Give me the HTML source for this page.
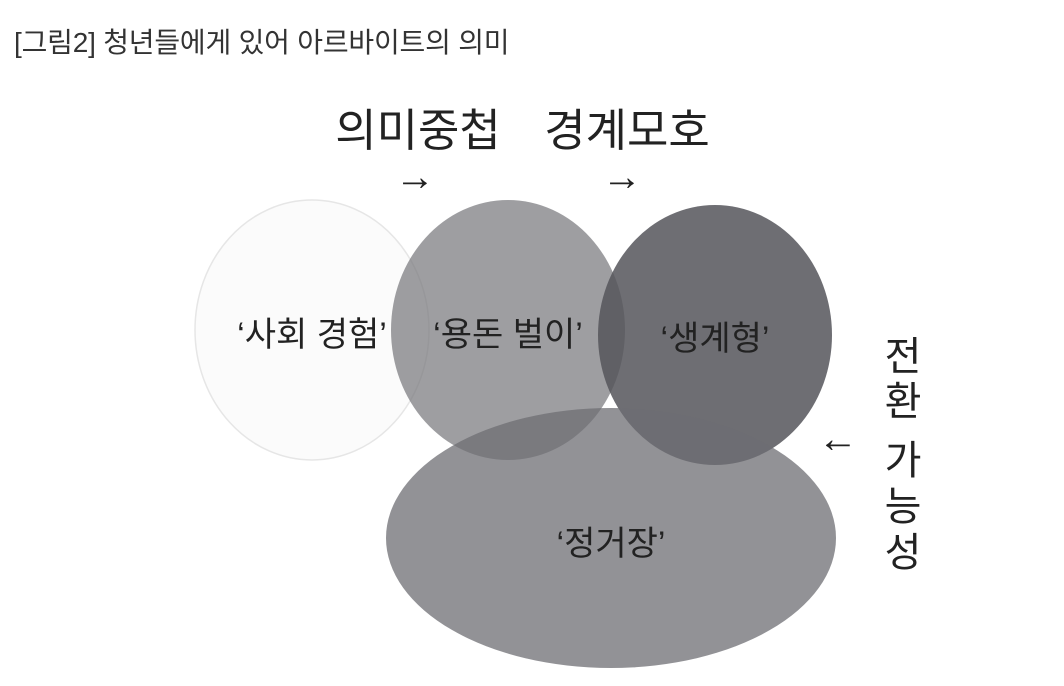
<!DOCTYPE html>
<html><head><meta charset="utf-8"><style>
body{margin:0;background:#fff;width:1064px;height:686px;overflow:hidden;font-family:"Liberation Sans","Noto Sans CJK KR",sans-serif;}
.t{position:absolute;color:#222;white-space:nowrap;}
</style></head><body>
<div class="t" style="left:14px;top:21px;font-size:28px;color:#333;letter-spacing:-0.2px">[그림2] 청년들에게 있어 아르바이트의 의미</div>
<svg width="1064" height="686" style="position:absolute;left:0;top:0">
<ellipse cx="312" cy="330" rx="117" ry="130" fill="#fbfbfb" stroke="#e6e6e6" stroke-width="1.5"/>
<ellipse cx="508" cy="330" rx="117" ry="130" fill="rgb(120,120,125)" fill-opacity="0.72"/>
<ellipse cx="715" cy="335" rx="117" ry="130" fill="rgb(85,85,90)" fill-opacity="0.85"/>
<ellipse cx="611" cy="538" rx="225" ry="130" fill="rgb(110,110,115)" fill-opacity="0.75"/>
<g font-family="Liberation Sans,Noto Sans CJK KR,sans-serif" fill="#222" font-size="34" text-anchor="middle">
<text x="312" y="346">‘사회 경험’</text>
<text x="508" y="346">‘용돈 벌이’</text>
<text x="715" y="350">‘생계형’</text>
<text x="611" y="555">‘정거장’</text>
<text x="418" y="146" font-size="45">의미중첩</text>
<text x="627" y="146" font-size="45">경계모호</text>
<text x="415" y="190" font-size="40">→</text>
<text x="622" y="190" font-size="40">→</text>
<text x="838" y="452" font-size="40">←</text>
</g>
<g font-family="Liberation Sans,Noto Sans CJK KR,sans-serif" fill="#222" font-size="40" text-anchor="middle">
<text x="903" y="370">전</text>
<text x="903" y="415">환</text>
<text x="903" y="474">가</text>
<text x="903" y="520">능</text>
<text x="903" y="566">성</text>
</g>
</svg>
</body></html>
